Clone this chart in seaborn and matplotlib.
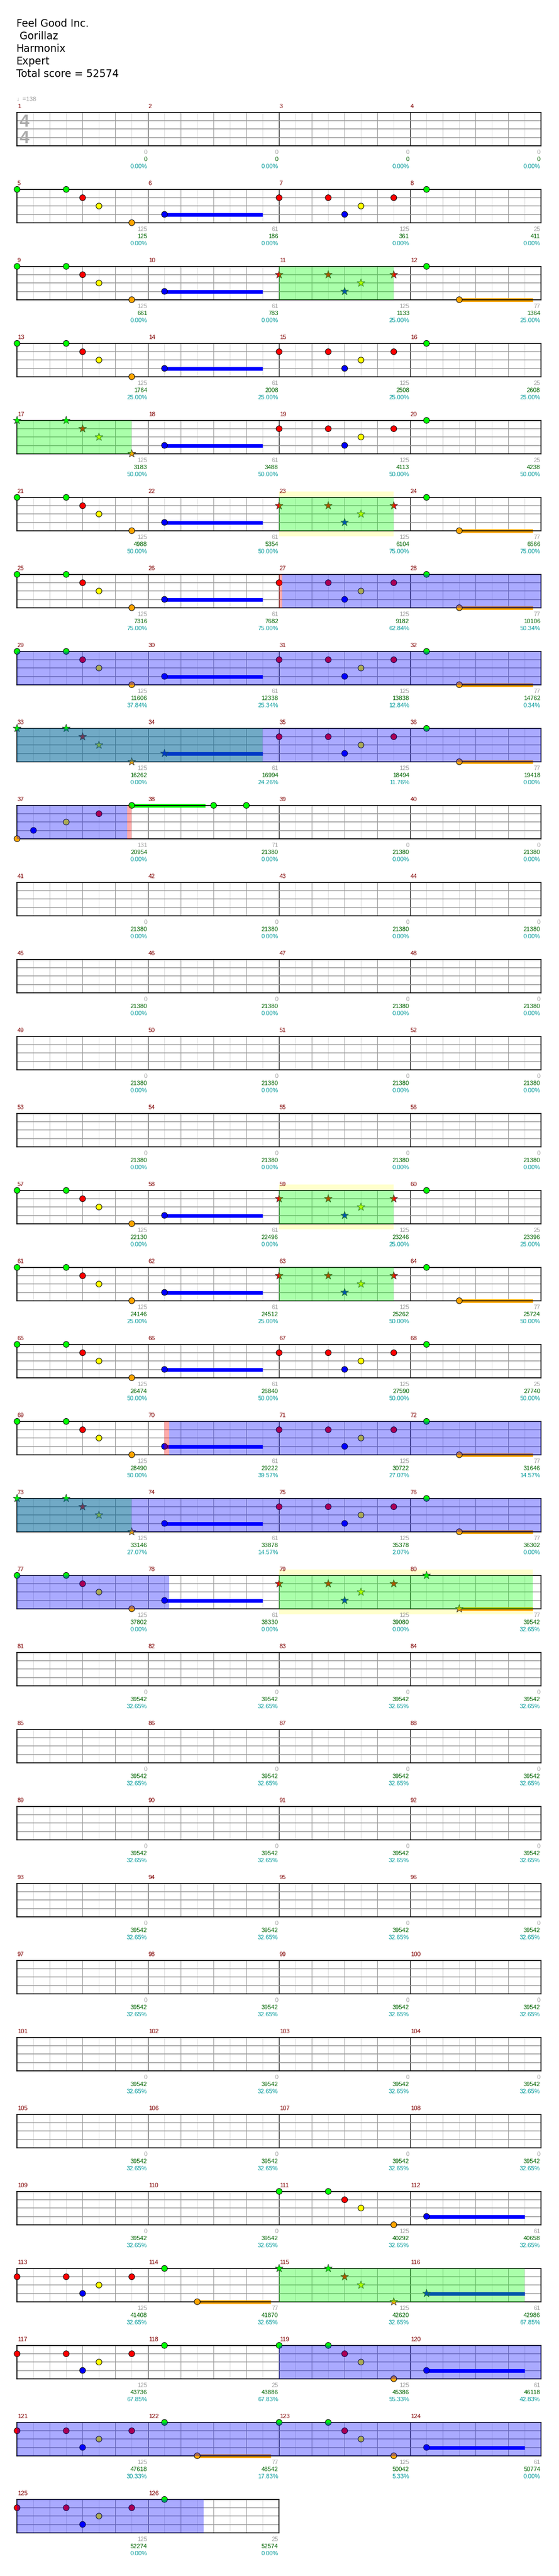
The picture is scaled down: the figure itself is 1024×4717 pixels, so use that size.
import numpy as np
import pandas as pd
import seaborn as sns
import matplotlib.pyplot as plt

# ---------------- song info ----------------
TITLE_LINES = ["Feel Good Inc.", " Gorillaz", "Harmonix", "Expert", "Total score = 52574"]
TEMPO = 138

# lanes top -> bottom
LANES = ["G", "R", "Y", "B", "O"]
LANE_COLORS = {"G": "#00ff00", "R": "#ff0000", "Y": "#ffff00", "B": "#0000ff", "O": "#ffa500"}

# one-measure phrases: (beat, lane, sustain length in beats)
INTRO = [(0, "G", 0), (1.5, "G", 0), (2, "R", 0), (2.5, "Y", 0), (3.5, "O", 0)]
HOLD = [(0.5, "B", 3.0)]
ANSWER = [(0, "R", 0), (1.5, "R", 0), (2, "B", 0), (2.5, "Y", 0), (3.5, "R", 0)]
TAG = [(0.5, "G", 0)]
TAG_SUS = [(0.5, "G", 0), (1.5, "O", 2.25)]
BREAK_A = [(0, "O", 0), (0.5, "B", 0), (1.5, "Y", 0), (2.5, "R", 0), (3.5, "G", 2.25)]
BREAK_B = [(2, "G", 0), (3, "G", 0)]
REST = []

PHRASES = {"INTRO": INTRO, "HOLD": HOLD, "ANSWER": ANSWER, "TAG": TAG,
           "TAG_SUS": TAG_SUS, "BREAK_A": BREAK_A, "BREAK_B": BREAK_B, "REST": REST}
# base points shown in grey under each measure
PHRASE_POINTS = {"INTRO": 125, "HOLD": 61, "ANSWER": 125, "TAG": 25,
                 "TAG_SUS": 77, "BREAK_A": 131, "BREAK_B": 71, "REST": 0}

CHART = (
    ["REST", "REST", "REST", "REST"]                       # 1-4
    + ["INTRO", "HOLD", "ANSWER", "TAG"]                   # 5-8
    + ["INTRO", "HOLD", "ANSWER", "TAG_SUS"]               # 9-12
    + ["INTRO", "HOLD", "ANSWER", "TAG"]                   # 13-16
    + ["INTRO", "HOLD", "ANSWER", "TAG"]                   # 17-20
    + ["INTRO", "HOLD", "ANSWER", "TAG_SUS"]               # 21-24
    + ["INTRO", "HOLD", "ANSWER", "TAG_SUS"]               # 25-28
    + ["INTRO", "HOLD", "ANSWER", "TAG_SUS"]               # 29-32
    + ["INTRO", "HOLD", "ANSWER", "TAG_SUS"]               # 33-36
    + ["BREAK_A", "BREAK_B", "REST", "REST"]               # 37-40
    + ["REST"] * 16                                        # 41-56
    + ["INTRO", "HOLD", "ANSWER", "TAG"]                   # 57-60
    + ["INTRO", "HOLD", "ANSWER", "TAG_SUS"]               # 61-64
    + ["INTRO", "HOLD", "ANSWER", "TAG"]                   # 65-68
    + ["INTRO", "HOLD", "ANSWER", "TAG_SUS"]               # 69-72
    + ["INTRO", "HOLD", "ANSWER", "TAG_SUS"]               # 73-76
    + ["INTRO", "HOLD", "ANSWER", "TAG_SUS"]               # 77-80
    + ["REST"] * 30                                        # 81-110
    + ["INTRO", "HOLD"]                                    # 111-112
    + ["ANSWER", "TAG_SUS", "INTRO", "HOLD"]               # 113-116
    + ["ANSWER", "TAG", "INTRO", "HOLD"]                   # 117-120
    + ["ANSWER", "TAG_SUS", "INTRO", "HOLD"]               # 121-124
    + ["ANSWER", "TAG"]                                    # 125-126
)

SCORES = (
    [0, 0, 0, 0,
     125, 186, 361, 411,
     661, 783, 1133, 1364,
     1764, 2008, 2508, 2608,
     3183, 3488, 4113, 4238,
     4988, 5354, 6104, 6566,
     7316, 7682, 9182, 10106,
     11606, 12338, 13838, 14762,
     16262, 16994, 18494, 19418,
     20954, 21380, 21380, 21380]
    + [21380] * 16
    + [22130, 22496, 23246, 23396,
       24146, 24512, 25262, 25724,
       26474, 26840, 27590, 27740,
       28490, 29222, 30722, 31646,
       33146, 33878, 35378, 36302,
       37802, 38330, 39080, 39542]
    + [39542] * 30
    + [40292, 40658,
       41408, 41870, 42620, 42986,
       43736, 43886, 45386, 46118,
       47618, 48542, 50042, 50774,
       52274, 52574]
)

SP_METER = (
    [0, 0, 0, 0,
     0, 0, 0, 0,
     0, 0, 25, 25,
     25, 25, 25, 25,
     50, 50, 50, 50,
     50, 50, 75, 75,
     75, 75, 62.84, 50.34,
     37.84, 25.34, 12.84, 0.34,
     0, 24.26, 11.76, 0,
     0, 0, 0, 0]
    + [0] * 16
    + [0, 0, 25, 25,
       25, 25, 50, 50,
       50, 50, 50, 50,
       50, 39.57, 27.07, 14.57,
       27.07, 14.57, 2.07, 0,
       0, 0, 0, 32.65]
    + [32.65] * 30
    + [32.65, 32.65,
       32.65, 32.65, 32.65, 67.85,
       67.85, 67.83, 55.33, 42.83,
       30.33, 17.83, 5.33, 0,
       0, 0]
)

# star power phrases, in beats from song start
SP_PHRASES = [(40, 43.5), (64, 67.5), (88, 91.5), (128, 135.5), (232, 235.5),
              (248, 251.5), (288, 291.5), (312, 319.75), (456, 463.5)]
SP_BANDS = [(88, 91.5), (232, 235.5), (312, 319.75)]
ACTIVATIONS = [(104.1, 147.36), (276.65, 308.65), (472, 501.69)]
ACT_MARKS = [(104, 104.1), (147.36, 147.5), (276.5, 276.65)]

# ---------------- layout (pixels) ----------------
W, H = 1024, 4717
X0, BEAT_PX = 31.3, 60
TOP0, ROW_STEP, STAFF_H = 205.8, 141, 61
SMALL = ["Liberation Sans", "DejaVu Sans"]

plt.rcParams['font.family'] = SMALL

# notes table
rows = []
for i, name in enumerate(CHART):
    for beat, lane, sus in PHRASES[name]:
        pos = 4 * i + beat
        star = any(a - 1e-6 <= pos <= b + 1e-6 for a, b in SP_PHRASES)
        rows.append(dict(pos=pos, lane=lane, lane_y=LANES.index(lane), sus=sus, star=star))
notes = pd.DataFrame(rows)

fig = plt.figure(figsize=(W / 100, H / 100), dpi=100)
fig.patch.set_facecolor("white")

n_meas = len(CHART)
n_rows = (n_meas + 3) // 4


def clip(spans, lo, hi):
    out = []
    for a, b in spans:
        a2, b2 = max(a, lo), min(b, hi)
        if b2 > a2:
            out.append((a2 - lo, b2 - lo))
    return out


for r in range(n_rows):
    top = TOP0 + r * ROW_STEP
    n = min(4, n_meas - 4 * r)
    lo, hi = 16 * r, 16 * r + 4 * n
    ax = fig.add_axes([X0 / W, 1 - (top + STAFF_H) / H, n * 4 * BEAT_PX / W, STAFF_H / H])

    # pale band behind some phrases
    for a, b in clip(SP_BANDS, lo, hi):
        ax.axvspan(a, b, ymin=1, ymax=1 + 10.5 / STAFF_H, color="#ffffcc", lw=0, zorder=0, clip_on=False)
        ax.axvspan(a, b, ymin=-10.5 / STAFF_H, ymax=0, color="#ffffcc", lw=0, zorder=0, clip_on=False)

    # grid
    for k in range(1, n * 8):
        if k % 8 == 0:
            c = "black"
        elif k % 2 == 0:
            c = "#999999"
        else:
            c = "#dddddd"
        ax.axvline(k / 2, color=c, lw=0.75, zorder=1)
    for ly in (1, 2, 3):
        ax.axhline(ly, color="#999999", lw=1.1, zorder=1)

    sub = notes[(notes.pos >= lo) & (notes.pos < hi)].copy()
    sub["x"] = sub.pos - lo

    # sustains
    sus = sub[sub.sus > 0]
    if len(sus):
        ax.hlines(sus.lane_y, sus.x, sus.x + sus.sus,
                  colors=[LANE_COLORS[l] for l in sus.lane], lw=4.8, zorder=2, clip_on=False)

    circ = sub[~sub.star]
    if len(circ):
        sns.scatterplot(data=circ, x="x", y="lane_y", hue="lane", palette=LANE_COLORS,
                        marker="o", s=60, edgecolor="black", linewidth=0.7,
                        legend=False, zorder=3, ax=ax)
    stars = sub[sub.star]
    if len(stars):
        sns.scatterplot(data=stars, x="x", y="lane_y", hue="lane", palette=LANE_COLORS,
                        marker="*", s=120, edgecolor="#333333", linewidth=0.6,
                        legend=False, zorder=3, ax=ax)
    for coll in ax.collections:
        coll.set_clip_on(False)

    # overlays
    for a, b in clip(SP_PHRASES, lo, hi):
        ax.axvspan(a, b, color="#00ff00", alpha=1 / 3, lw=0, zorder=5)
    for a, b in clip(ACTIVATIONS, lo, hi):
        ax.axvspan(a, b, color="#0000ff", alpha=1 / 3, lw=0, zorder=5)
    for a, b in clip(ACT_MARKS, lo, hi):
        ax.axvspan(a, b, color="#ff0000", alpha=1 / 3, lw=0, zorder=5)

    ax.set_xlim(0, 4 * n)
    ax.set_ylim(4, 0)
    ax.set_xticks([])
    ax.set_yticks([])
    ax.set_xlabel("")
    ax.set_ylabel("")
    for sp in ax.spines.values():
        sp.set_linewidth(1.2)
        sp.set_color("black")

# ---------------- texts ----------------
cv = fig.add_axes([0, 0, 1, 1])
cv.set_xlim(0, W)
cv.set_ylim(H, 0)
cv.axis("off")

for k, line in enumerate(TITLE_LINES):
    cv.text(29.5, 49 + 23 * k, line, fontsize=13.5, family="DejaVu Sans",
            color="black", va="baseline", ha="left")

cv.text(30.5, TOP0 - 20.4, f"\u2669={TEMPO}", fontsize=8, color="#a0a0a0",
        va="baseline", ha="left", family=SMALL)
for yb in (232.3, 262.3):
    cv.text(35.5, yb, "4", fontsize=23, fontweight="bold", color="#aaaaaa",
            va="baseline", ha="left", family=SMALL)

for i in range(n_meas):
    r, j = divmod(i, 4)
    top = TOP0 + r * ROW_STEP
    xs = X0 + j * 4 * BEAT_PX
    xe = xs + 4 * BEAT_PX - 1.5
    cv.text(xs + 0.5, top - 7.5, str(i + 1), fontsize=8, color="#800000", va="baseline", ha="left")
    cv.text(xe, top + 76.5, str(PHRASE_POINTS[CHART[i]]), fontsize=8, color="#a0a0a0",
            va="baseline", ha="right")
    cv.text(xe, top + 89.5, str(SCORES[i]), fontsize=8, color="#006400", va="baseline", ha="right")
    cv.text(xe, top + 102.5, f"{SP_METER[i]:.2f}%", fontsize=8, color="#009999",
            va="baseline", ha="right")

plt.savefig("out.png", dpi=100)
